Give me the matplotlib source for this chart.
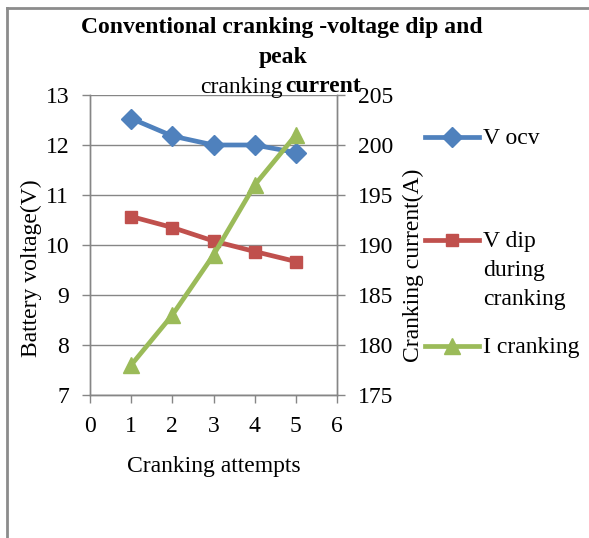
import matplotlib
matplotlib.use("Agg")
import matplotlib.pyplot as plt
from matplotlib.lines import Line2D

attempts = [1, 2, 3, 4, 5]
v_ocv = [12.53, 12.18, 12.0, 12.0, 11.85]
v_dip = [10.57, 10.35, 10.08, 9.87, 9.67]
i_crank = [178, 183, 189, 196, 201]

x_ticks = [0, 1, 2, 3, 4, 5, 6]
left_ticks = [7, 8, 9, 10, 11, 12, 13]
right_ticks = [175, 180, 185, 190, 195, 200, 205]

plt.rcParams['font.family'] = ['Liberation Serif', 'DejaVu Serif']
FS = 17
GRAY = '#868686'
BLUE = '#4F81BD'
RED = '#C0504D'
GREEN = '#9BBB59'

fig = plt.figure(figsize=(5.89, 5.38), dpi=100)
ax = fig.add_axes([90/589, 1-395/538, (337-90)/589, 300/538])
ax2 = ax.twinx()

ax.set_xlim(0, 6)
ax.set_ylim(7, 13)
ax2.set_ylim(175, 205)
ax.set_xticks(x_ticks)
ax.set_yticks(left_ticks)
ax2.set_yticks(right_ticks)

for a in (ax, ax2):
    for s in a.spines.values():
        s.set_color(GRAY)
        s.set_linewidth(1.0)
    a.tick_params(colors=GRAY, labelcolor='black', labelsize=FS, length=6, width=1.0, direction='out')
ax.tick_params(axis='x', pad=9)
ax.tick_params(axis='y', pad=9)
ax2.tick_params(axis='y', pad=9)
ax.spines['top'].set_visible(False)
ax2.spines['top'].set_visible(False)
ax.yaxis.grid(True, color=GRAY, linewidth=1.0)
ax.set_axisbelow(True)

ax.plot(attempts, v_ocv, color=BLUE, lw=3.4, marker='D', ms=10, zorder=3)
ax.plot(attempts, v_dip, color=RED, lw=3.4, marker='s', ms=8, zorder=3)
ax2.plot(attempts, i_crank, color=GREEN, lw=3.4, marker='^', ms=12, zorder=3)

ax.set_xlabel('Cranking attempts', fontsize=FS, labelpad=14)
fig.text(31/589, 1-268/538, 'Battery voltage(V)', rotation=90, fontsize=FS, ha='center', va='center')
fig.text(413/589, 1-265/538, 'Cranking current(A)', rotation=90, fontsize=FS, ha='center', va='center')

# title
fig.text(282/589, 1-28/538, 'Conventional cranking -voltage dip and', fontsize=FS, fontweight='bold', ha='center', va='center')
fig.text(283/589, 1-57/538, 'peak', fontsize=FS, fontweight='bold', ha='center', va='center')
fig.text(283/589, 1-87/538, 'cranking', fontsize=FS, ha='right', va='center')
fig.text(285/589, 1-87/538, 'current', fontsize=FS, fontweight='bold', ha='left', va='center')

# legend
legend_items = [
    (['V ocv'], BLUE, 'D', 10, 137),
    (['V dip', 'during', 'cranking'], RED, 's', 8, 240),
    (['I cranking'], GREEN, '^', 12, 346),
]
for lines, col, mk, ms, yy in legend_items:
    yf = 1 - yy/538
    fig.add_artist(Line2D([425/589, 479/589], [yf, yf], color=col, lw=3.4, transform=fig.transFigure))
    fig.add_artist(Line2D([452/589], [yf], color=col, marker=mk, ms=ms, transform=fig.transFigure))
    for k, txt in enumerate(lines):
        fig.text(483/589, 1-(yy + 2 + 28.5*k)/538, txt, fontsize=FS, ha='left', va='center')

# chart border (top & left edges)
fig.add_artist(Line2D([7/589, 1], [1-8/538, 1-8/538], color='#8C8C8C', lw=2, transform=fig.transFigure))
fig.add_artist(Line2D([7/589, 7/589], [0, 1-8/538], color='#8C8C8C', lw=2, transform=fig.transFigure))

fig.savefig('out.png', dpi=100)
